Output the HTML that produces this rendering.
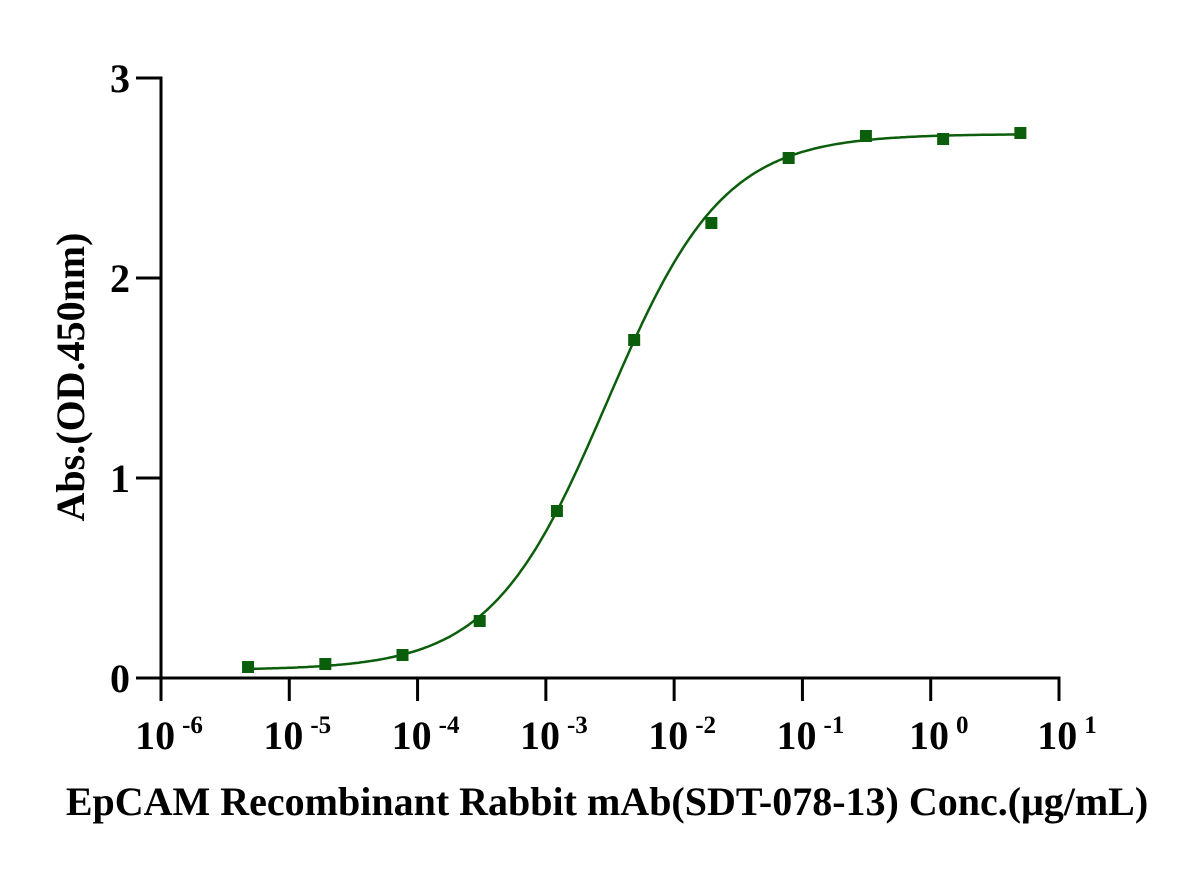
<!DOCTYPE html>
<html><head><meta charset="utf-8"><style>
html,body{margin:0;padding:0;background:#fff;}
svg text{font-family:"Liberation Serif",serif;font-weight:bold;fill:#000;}
</style></head><body>
<svg id="chart" width="1196" height="867" viewBox="0 0 1196 867" xmlns="http://www.w3.org/2000/svg">
<g id="axes"></g>
<g id="marks"></g>
<text transform="translate(84,377) rotate(-90)" text-anchor="middle" font-size="40">Abs.(OD.450nm)</text>
<text x="607" y="815" text-anchor="middle" font-size="40">EpCAM Recombinant Rabbit mAb(SDT-078-13) Conc.(μg/mL)</text>
</svg>
<script>
const concentrations=[4.77e-6,1.91e-5,7.63e-5,3.05e-4,1.22e-3,4.88e-3,1.95e-2,7.81e-2,0.3125,1.25,5];
const absorbance=[0.055,0.07,0.115,0.285,0.835,1.69,2.275,2.6,2.71,2.695,2.725];
const yTicks=[0,1,2,3];
const xTickExps=[-6,-5,-4,-3,-2,-1,0,1];
const fitParams=[0.04,2.72,0.0030,0.96]; // bottom, top, EC50, hill

const NS='http://www.w3.org/2000/svg';
const x0=161,x1=1059,y0=678,y1=78;
const xs=v=>x0+(Math.log10(v)+6)/7*(x1-x0);
const ys=v=>y0-v/3*(y0-y1);
function mk(tag,attrs,parent){const e=document.createElementNS(NS,tag);for(const k in attrs)e.setAttribute(k,attrs[k]);parent.appendChild(e);return e;}
const axes=document.getElementById('axes'),marks=document.getElementById('marks');
let l=mk('line',{x1:136,y1:y0,x2:x1+1.5,y2:y0,stroke:'#000','stroke-width':3},axes);

l=mk('line',{x1:x0,y1:y1-1.5,x2:x0,y2:y0+1.5,stroke:'#000','stroke-width':3},axes);

xTickExps.forEach(e=>{const x=xs(Math.pow(10,e));
 const t=mk('line',{x1:x,y1:y0,x2:x,y2:701,stroke:'#000','stroke-width':3},axes);
 
 const tx=mk('text',{x:x+8,y:749,'text-anchor':'middle','font-size':40},axes);
 
 tx.textContent='10';
 const sp=mk('tspan',{'font-size':25,dy:-16,dx:7},tx);sp.textContent=String(e);
});
yTicks.forEach(v=>{const y=ys(v);
 const t=mk('line',{x1:136,y1:y,x2:x0,y2:y,stroke:'#000','stroke-width':3},axes);
 
 const tx=mk('text',{x:130,y:y+14,'text-anchor':'end','font-size':40},axes);
 
 tx.textContent=String(v);
});
const [b,tp,ec,h]=fitParams;
let d='';const lo=Math.log10(concentrations[0]),hi=Math.log10(concentrations[concentrations.length-1]);
for(let i=0;i<=300;i++){const lx=lo+(hi-lo)*i/300,c=Math.pow(10,lx);
 const y=b+(tp-b)/(1+Math.pow(ec/c,h));d+=(i?'L':'M')+xs(c).toFixed(1)+','+ys(y).toFixed(1);}
const p=mk('path',{d:d,fill:'none',stroke:'#0b5e0b','stroke-width':2.5},marks);

concentrations.forEach((c,i)=>{
 const r=mk('rect',{x:xs(c)-6,y:ys(absorbance[i])-6,width:12,height:12,fill:'#0b5e0b'},marks);
 
});
</script>
</body></html>
